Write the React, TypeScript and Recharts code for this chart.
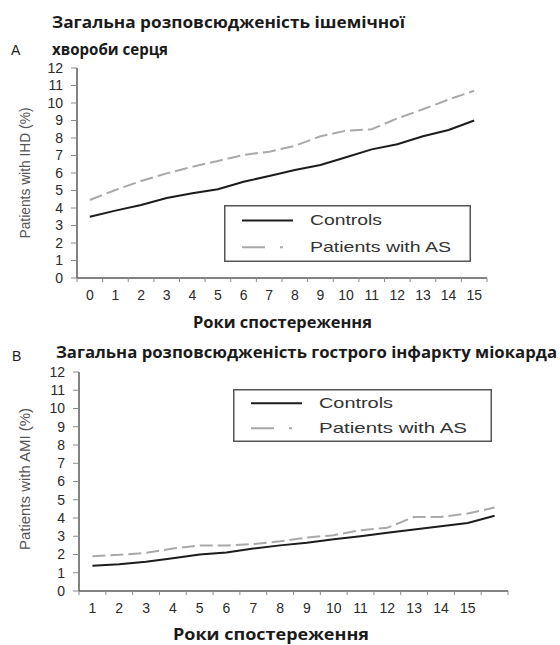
import React from 'react';
import { LineChart, Line, XAxis, YAxis, Legend } from 'recharts';

// A: ischemic heart disease, years 0..15
const yearsA = ['0', '1', '2', '3', '4', '5', '6', '7', '8', '9', '10', '11', '12', '13', '14', '15'];
const controlsA = [3.5, 3.85, 4.17, 4.57, 4.84, 5.07, 5.5, 5.83, 6.17, 6.46, 6.9, 7.35, 7.64, 8.1, 8.46, 9.0];
const patientsA = [4.46, 5.03, 5.54, 5.98, 6.36, 6.69, 7.03, 7.22, 7.55, 8.1, 8.42, 8.5, 9.12, 9.64, 10.2, 10.7];

// B: acute myocardial infarction, years 1..15 (+ unlabeled last point)
const yearsB = ['1', '2', '3', '4', '5', '6', '7', '8', '9', '10', '11', '12', '13', '14', '15', ''];
const controlsB = [1.38, 1.47, 1.6, 1.79, 2.0, 2.11, 2.33, 2.5, 2.64, 2.83, 3.0, 3.19, 3.37, 3.55, 3.73, 4.12];
const patientsB = [1.91, 1.98, 2.09, 2.33, 2.5, 2.5, 2.57, 2.72, 2.93, 3.06, 3.33, 3.47, 4.06, 4.06, 4.25, 4.57];

const yTicks = [0, 1, 2, 3, 4, 5, 6, 7, 8, 9, 10, 11, 12];

const dataA = yearsA.map((year, i) => ({ year, controls: controlsA[i], patients: patientsA[i] }));
const dataB = yearsB.map((year, i) => ({ year, controls: controlsB[i], patients: patientsB[i] }));

const TICK_FONT = '"Liberation Sans", Arial, sans-serif';
const TITLE_FONT = '"Open Sans", "Noto Sans", sans-serif';
const DARK = '#1c1c1c';
const LIGHT = '#a9a9a9';
const FRAME = '#8a8a8a';
const AXIS = '#5a5a5a';

const makeXTick = (band: number, count: number) => (props: any) => {
  const { x, y, payload, index } = props;
  const left = x - band / 2;
  return (
    <g>
      <line x1={left} y1={y} x2={left} y2={y + 4} stroke={FRAME} />
      {index === count - 1 && <line x1={x + band / 2} y1={y} x2={x + band / 2} y2={y + 4} stroke={FRAME} />}
      <text x={x} y={y + 22} textAnchor="middle" fontFamily={TICK_FONT} fontSize={14} fill="#2a2a2a">
        {payload.value}
      </text>
    </g>
  );
};

const makeLegend = (w: number, h: number, textW1: number, textW2: number) => () => (
  <svg width={w} height={h} style={{ display: 'block' }}>
    <rect x={0.75} y={0.75} width={w - 1.5} height={h - 1.5} fill="#fff" stroke="#555" strokeWidth={1.5} />
    <line x1={18} y1={h * 0.27} x2={69} y2={h * 0.27} stroke={DARK} strokeWidth={2} />
    <text x={86} y={h * 0.27 + 5} fontFamily={TICK_FONT} fontSize={15} fill="#333" textLength={textW1} lengthAdjust="spacingAndGlyphs">
      Controls
    </text>
    <line x1={18} y1={h * 0.74} x2={64} y2={h * 0.74} stroke={LIGHT} strokeWidth={2} strokeDasharray="23 15 3 100" />
    <text x={86} y={h * 0.74 + 5} fontFamily={TICK_FONT} fontSize={15} fill="#333" textLength={textW2} lengthAdjust="spacingAndGlyphs">
      Patients with AS
    </text>
  </svg>
);

interface PanelProps {
  data: any[];
  top: number;
  height: number;
  margin: { top: number; right: number };
  yWidth: number;
  xHeight: number;
  plotWidth: number;
  legend: { left: number; top: number; width: number; height: number; t1: number; t2: number };
}

const Panel = ({ data, top, height, margin, yWidth, xHeight, plotWidth, legend }: PanelProps) => {
  const band = plotWidth / data.length;
  return (
    <div style={{ position: 'absolute', left: 0, top }}>
      <LineChart width={560} height={height} data={data} margin={{ top: margin.top, right: margin.right, left: 0, bottom: 0 }}>
        <XAxis
          dataKey="year"
          height={xHeight}
          padding={{ left: band / 2, right: band / 2 }}
          interval={0}
          tickSize={0}
          tickMargin={0}
          tickLine={false}
          axisLine={{ stroke: AXIS, strokeWidth: 1.5 }}
          tick={makeXTick(band, data.length)}
        />
        <XAxis xAxisId="top" dataKey="year" orientation="top" height={0} tick={false} tickLine={false} axisLine={{ stroke: FRAME }} padding={{ left: band / 2, right: band / 2 }} />
        <YAxis
          domain={[0, 12]}
          ticks={yTicks}
          interval={0}
          width={yWidth}
          tickSize={6}
          tickMargin={8}
          tickLine={{ stroke: FRAME }}
          axisLine={{ stroke: AXIS, strokeWidth: 1.5 }}
          tick={{ fontFamily: TICK_FONT, fontSize: 14, fill: '#2a2a2a' }}
        />
        <YAxis yAxisId="right" orientation="right" domain={[0, 12]} width={0} tick={false} tickLine={false} axisLine={{ stroke: FRAME }} />
        <Legend
          layout="vertical"
          align="center"
          verticalAlign="middle"
          content={makeLegend(legend.width, legend.height, legend.t1, legend.t2)}
          wrapperStyle={{ left: legend.left, top: legend.top, width: legend.width, height: legend.height }}
        />
        <Line type="linear" dataKey="controls" name="Controls" stroke={DARK} strokeWidth={2} dot={false} isAnimationActive={false} />
        <Line type="linear" dataKey="patients" name="Patients with AS" stroke={LIGHT} strokeWidth={2} strokeDasharray="13 5" dot={false} isAnimationActive={false} />
      </LineChart>
    </div>
  );
};

const titleProps = {
  fontFamily: TITLE_FONT,
  fontWeight: 700,
  fontSize: 16,
  fill: '#1a1a1a',
  lengthAdjust: 'spacingAndGlyphs' as const,
};

export default function App() {
  return (
    <div style={{ position: 'absolute', left: 0, top: 0, width: 560, height: 645, background: '#fff' }}>
      <svg width={560} height={645} style={{ position: 'absolute', left: 0, top: 0 }}>
        <text x={52} y={28} {...titleProps} textLength={353}>
          Загальна розповсюдженість ішемічної
        </text>
        <text x={52} y={55} {...titleProps} textLength={116}>
          хвороби серця
        </text>
        <text x={11} y={55} fontFamily={TICK_FONT} fontSize={14} fill="#222">A</text>
        <text x={193} y={328} {...titleProps} textLength={179}>
          Роки спостереження
        </text>
        <text x={56} y={358} {...titleProps} textLength={501}>
          Загальна розповсюдженість гострого інфаркту міокарда
        </text>
        <text x={12} y={361} fontFamily={TICK_FONT} fontSize={14} fill="#222">B</text>
        <text x={173} y={640} {...titleProps} textLength={196}>
          Роки спостереження
        </text>
        <text transform="translate(30,173) rotate(-90)" textAnchor="middle" fontFamily={TICK_FONT} fontSize={14} fill="#555" textLength={131} lengthAdjust="spacingAndGlyphs">
          Patients with IHD (%)
        </text>
        <text transform="translate(30,479) rotate(-90)" textAnchor="middle" fontFamily={TICK_FONT} fontSize={14} fill="#555" textLength={142} lengthAdjust="spacingAndGlyphs">
          Patients with AMI (%)
        </text>
      </svg>
      <Panel
        data={dataA}
        top={0}
        height={340}
        margin={{ top: 68, right: 73 }}
        yWidth={77}
        xHeight={62}
        plotWidth={410}
        legend={{ left: 224, top: 205, width: 247, height: 57, t1: 72, t2: 141 }}
      />
      <Panel
        data={dataB}
        top={340}
        height={305}
        margin={{ top: 32, right: 52 }}
        yWidth={79}
        xHeight={54}
        plotWidth={429}
        legend={{ left: 233, top: 49, width: 259, height: 53, t1: 74, t2: 148 }}
      />
    </div>
  );
}
